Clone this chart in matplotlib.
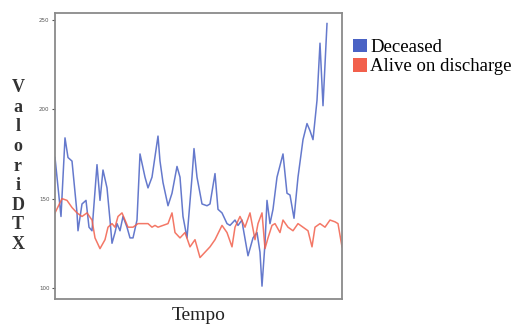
import matplotlib
import matplotlib.pyplot as plt
from matplotlib.patches import Patch

matplotlib.use('Agg')

# time positions (arbitrary units) and DTX values
tempo_deceased = [0, 6, 10, 13, 17, 22, 23, 27, 31, 34, 37, 42, 45, 48, 52, 55, 57, 60, 62, 65,
                  68, 72, 75, 78, 82, 85, 90, 93, 97, 103, 105, 108, 113, 117, 122, 125, 128, 132,
                  137, 139, 142, 147, 152, 155, 160, 163, 167, 172, 175, 180, 183, 187, 188, 193,
                  198, 202, 205, 207, 210, 212, 215, 218, 222, 228, 232, 235, 239, 243, 248, 252,
                  255, 258, 262, 265, 268, 272]
deceased = [173, 140, 184, 173, 171, 142, 132, 147, 149, 134, 132, 169, 149, 166, 156, 138, 125,
            131, 136, 132, 140, 134, 128, 128, 138, 175, 162, 156, 162, 185, 171, 159, 146, 153,
            168, 162, 140, 128, 162, 178, 162, 147, 146, 147, 164, 144, 142, 136, 135, 138, 135,
            138, 134, 118, 128, 131, 120, 101, 125, 149, 136, 144, 162, 175, 153, 152, 139, 162,
            183, 192, 188, 183, 205, 237, 202, 248]

tempo_alive = [0, 7, 12, 17, 22, 27, 32, 37, 40, 45, 50, 53, 57, 60, 63, 67, 70, 73, 78, 83, 88,
               93, 97, 100, 103, 108, 113, 117, 120, 125, 130, 135, 140, 145, 150, 155, 160, 167,
               172, 177, 180, 185, 190, 195, 200, 203, 207, 210, 213, 217, 220, 225, 228, 233,
               238, 243, 248, 253, 257, 260, 265, 270, 275, 280, 283, 287]
alive = [142, 150, 149, 145, 142, 140, 142, 138, 128, 122, 127, 134, 136, 134, 140, 142, 138, 134,
         134, 136, 136, 136, 134, 135, 134, 135, 136, 142, 131, 128, 131, 123, 127, 117, 120, 123,
         127, 135, 131, 123, 134, 140, 134, 142, 127, 136, 142, 122, 128, 135, 136, 131, 138, 134,
         132, 136, 134, 132, 123, 134, 136, 134, 138, 137, 136, 123]

y_ticks = [100, 150, 200, 250]
series_labels = ['Deceased', 'Alive on discharge']

BLUE = '#4a62c4'
RED = '#f2604c'
serif = ['Liberation Serif', 'DejaVu Serif']

fig = plt.figure(figsize=(5.18, 3.24), dpi=100, facecolor='white')
ax = fig.add_axes([55 / 518, 25 / 324, 287 / 518, 286 / 324])

ax.plot(tempo_deceased, deceased, color=BLUE, linewidth=1.1, alpha=0.85)
ax.plot(tempo_alive, alive, color=RED, linewidth=1.1, alpha=0.85)

ax.set_xlim(0, 287)
ax.set_ylim(93.8, 253.9)
ax.set_xticks([])
ax.set_yticks(y_ticks)
ax.tick_params(axis='y', length=2.5, width=0.8, colors='#555555', labelsize=4, pad=1.5)
for sp in ax.spines.values():
    sp.set_color('#8a8a8a')
    sp.set_linewidth(1.3)

ax.set_xlabel('Tempo', family=serif, fontsize=14, color='#222222', labelpad=6)
fig.text(18 / 518, 1 - 166 / 324, '\n'.join('ValoriDTX'), family=serif, fontsize=13,
         fontweight='bold', color='#333333', ha='center', va='center', linespacing=1.2)

handles = [Patch(facecolor=BLUE, edgecolor='none'), Patch(facecolor=RED, edgecolor='none')]
fig.legend(handles, series_labels, loc='upper left', bbox_to_anchor=(345 / 518, 1 - 31 / 324),
           frameon=False, prop={'family': serif, 'size': 13.5}, handlelength=0.75,
           handleheight=0.75, handletextpad=0.2, labelspacing=0.1, borderaxespad=0)

fig.savefig('out.png', dpi=100)
